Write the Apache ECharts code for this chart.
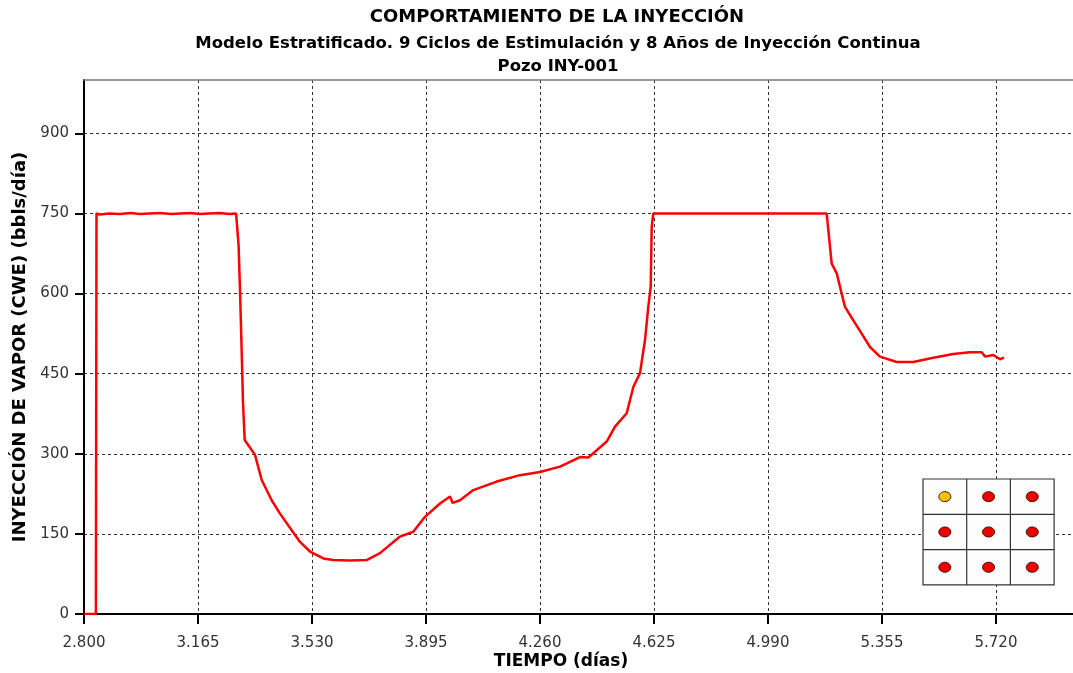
<!DOCTYPE html>
<html>
<head>
<meta charset="utf-8">
<script src="https://cdn.jsdelivr.net/npm/echarts@6/dist/echarts.min.js"></script>
<style>html,body{margin:0;padding:0;background:#fff}#c{width:1073px;height:673px}</style>
</head>
<body>
<div id="c"></div>
<script>
const titulo = 'COMPORTAMIENTO DE LA INYECCIÓN';
const subtitulo = 'Modelo Estratificado. 9 Ciclos de Estimulación y 8 Años de Inyección Continua';
const pozo = 'Pozo INY-001';
const nombreX = 'TIEMPO (días)';
const nombreY = 'INYECCIÓN DE VAPOR (CWE) (bbls/día)';

const tiempo = [
  2.800, 2.838, 2.840, 2.851, 2.880, 2.915, 2.950, 2.979, 3.010, 3.043, 3.080, 3.107, 3.140, 3.171, 3.200, 3.235, 3.265, 3.287, 3.292,
  3.295, 3.2995, 3.3027, 3.306, 3.309, 3.3145, 3.3475, 3.369, 3.401, 3.4275, 3.465, 3.4916, 3.5236, 3.5662, 3.5982,
  3.650, 3.7051, 3.7477, 3.8118, 3.8544, 3.8918, 3.9398, 3.9719, 3.9805, 4.0039, 4.0465, 4.1214, 4.1960, 4.2600,
  4.3241, 4.3881, 4.4147, 4.4307, 4.4736, 4.5002, 4.5376, 4.5588, 4.5802, 4.5962, 4.6068, 4.6145, 4.6177, 4.6228,
  5.178, 5.1832, 5.1940, 5.2100, 5.2260, 5.2366, 5.2632, 5.2900, 5.3166, 5.3486, 5.4021, 5.4553, 5.5193, 5.5833,
  5.6368, 5.6743, 5.6848, 5.7114, 5.7329, 5.7457
];
const inyeccion = [
  0, 0, 750, 748, 750, 749, 751, 749, 750, 751, 749, 750, 751, 749, 750, 751, 749, 750, 750,
  690, 606, 538, 467, 397, 326, 298, 251, 213, 188, 157, 135, 117, 104, 101,
  100, 101, 114, 145, 154, 182, 207, 220, 208, 213, 232, 248, 260, 266,
  276, 294, 293, 301, 323, 351, 376, 425, 451, 513, 575, 613, 725, 750,
  750, 719, 656, 638, 600, 575, 550, 525, 500, 482, 472, 472, 480, 487,
  490, 490, 482, 485, 477, 480
];

const celdaColores = [
  ['#f2c200', '#ee0000', '#ee0000'],
  ['#ee0000', '#ee0000', '#ee0000'],
  ['#ee0000', '#ee0000', '#ee0000']
];

const chart = echarts.init(document.getElementById('c'), null, {renderer: 'canvas'});

// Inset 3x3 well pattern
const gx = 923, gy = 479, cw = 43.7, ch = 35.3;
const inset = [{
  type: 'rect', shape: {x: gx, y: gy, width: cw * 3, height: ch * 3},
  style: {fill: '#fdfdfd', stroke: '#333', lineWidth: 1.2}, z: 10
}];
for (let i = 1; i < 3; i++) {
  inset.push({type: 'line', shape: {x1: gx + cw * i, y1: gy, x2: gx + cw * i, y2: gy + ch * 3}, style: {stroke: '#333', lineWidth: 1.2}, z: 11});
  inset.push({type: 'line', shape: {x1: gx, y1: gy + ch * i, x2: gx + cw * 3, y2: gy + ch * i}, style: {stroke: '#333', lineWidth: 1.2}, z: 11});
}
for (let r = 0; r < 3; r++) {
  for (let c = 0; c < 3; c++) {
    inset.push({type: 'ellipse', shape: {cx: gx + cw * (c + 0.5), cy: gy + ch * (r + 0.5), rx: 6, ry: 5},
      style: {fill: celdaColores[r][c], stroke: '#3a1a00', lineWidth: 1}, z: 12});
  }
}

const fontBold = '"DejaVu Sans", sans-serif';
const xMin = 2.8, xMax = 5.9666, xStep = 0.365;

chart.setOption({
  animation: false,
  backgroundColor: '#fff',
  grid: {left: 84, right: 0, top: 80, bottom: 59, show: false, containLabel: false, outerBoundsMode: 'none'},
  graphic: [
    {type: 'text', x: 557, y: 17, style: {text: titulo, font: 'bold 18px ' + fontBold, fill: '#000', textAlign: 'center', textVerticalAlign: 'middle'}},
    {type: 'text', x: 558, y: 44, style: {text: subtitulo, font: 'bold 16.5px ' + fontBold, fill: '#000', textAlign: 'center', textVerticalAlign: 'middle'}},
    {type: 'text', x: 558, y: 67, style: {text: pozo, font: 'bold 16.5px ' + fontBold, fill: '#000', textAlign: 'center', textVerticalAlign: 'middle'}},
    {type: 'text', x: 561, y: 662, style: {text: nombreX, font: 'bold 17px ' + fontBold, fill: '#000', textAlign: 'center', textVerticalAlign: 'middle'}},
    {type: 'group', children: inset}
  ],
  xAxis: [{
    type: 'value', min: xMin, max: xMax, interval: xStep,
    axisLine: {lineStyle: {color: '#000', width: 2}},
    axisTick: {length: 10, lineStyle: {color: '#000', width: 2}},
    axisLabel: {margin: 22, color: '#333', fontFamily: 'DejaVu Sans', fontSize: 15, showMaxLabel: false,
      formatter: v => v > 5.9 ? '' : v.toFixed(3)},
    splitLine: {show: true, showMinLine: false, showMaxLine: false, lineStyle: {color: '#333', type: [3, 3], width: 1}}
  }, {
    type: 'value', position: 'top', min: xMin, max: xMax, interval: xStep,
    axisLine: {show: true, onZero: false, lineStyle: {color: '#777', width: 1.5}},
    axisTick: {show: false}, axisLabel: {show: false}, splitLine: {show: false}
  }],
  yAxis: {
    type: 'value', min: 0, max: 1000, interval: 150,
    name: nombreY, nameLocation: 'middle', nameGap: 50,
    nameTextStyle: {fontFamily: 'DejaVu Sans', fontWeight: 'bold', fontSize: 18, color: '#000'},
    axisLine: {show: true, lineStyle: {color: '#000', width: 2}},
    axisTick: {show: true, length: 9, lineStyle: {color: '#000', width: 2}},
    axisLabel: {margin: 15, color: '#333', fontFamily: 'DejaVu Sans', fontSize: 15, showMaxLabel: false,
      formatter: v => v > 950 ? '' : String(v)},
    splitLine: {show: true, showMinLine: false, showMaxLine: false, lineStyle: {color: '#333', type: [3, 3], width: 1}}
  },
  series: [{
    type: 'line',
    xAxisIndex: 0,
    data: tiempo.map((t, i) => [t, inyeccion[i]]),
    showSymbol: false,
    lineStyle: {color: '#ff0000', width: 2.5},
    itemStyle: {color: '#ff0000'},
    z: 5
  }]
});
</script>
</body>
</html>
